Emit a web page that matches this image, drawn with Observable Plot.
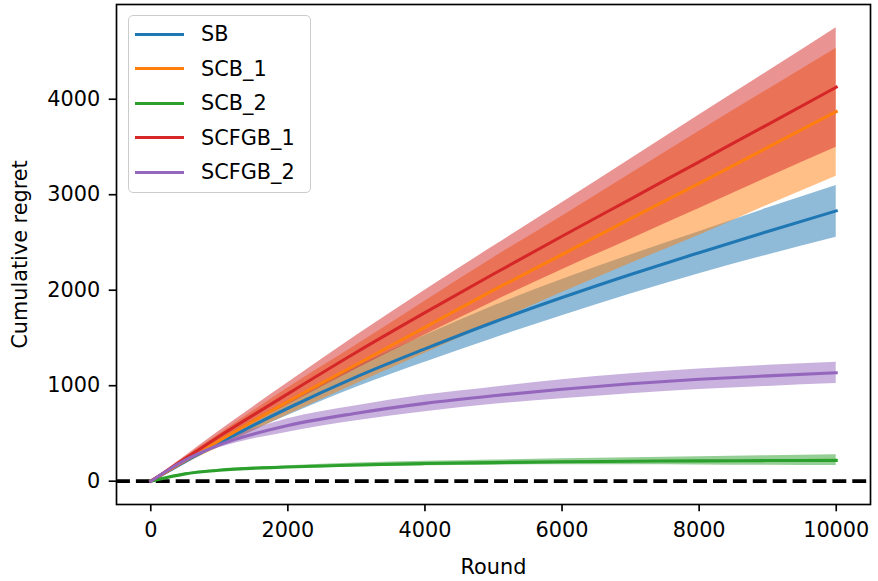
<!DOCTYPE html>
<html>
<head>
<meta charset="utf-8">
<script src="https://cdn.jsdelivr.net/npm/d3@7"></script>
<script src="https://cdn.jsdelivr.net/npm/@observablehq/plot@0.6"></script>
<style>
  html, body { margin: 0; padding: 0; background: white; }
  #wrap { position: relative; width: 878px; height: 581px; font-family: "DejaVu Sans", sans-serif; }
  #wrap svg { position: absolute; left: 0; top: 0; }
  #legend { position: absolute; left: 128px; top: 15px; width: 181px; height: 176px;
    border: 1.6px solid #cccccc; border-radius: 5px; background: rgba(255,255,255,0.8); }
  .item { position: absolute; left: 0; height: 30px; width: 180px; }
  .swatch { position: absolute; left: 6px; width: 49px; height: 3.1px; }
  .lbl { position: absolute; left: 72px; font-size: 20.8px; line-height: 20px; color: black; white-space: nowrap; }
</style>
</head>
<body>
<div id="wrap"><div id="legend"></div></div>
<script>
// x positions (rounds)
const rounds = [0, 250, 500, 1000, 2000, 3000, 4000, 5000, 6000, 7000, 8000, 9000, 10000];

// series names and colours
const names = ["SB", "SCB_1", "SCB_2", "SCFGB_1", "SCFGB_2"];
const colors = ["#1f77b4", "#ff7f0e", "#2ca02c", "#d62728", "#9467bd"];

// SB
const sbMean = [0, 103, 205, 400, 764, 1093, 1386, 1665, 1923, 2165, 2393, 2615, 2831];
const sbLo   = [0, 93, 185, 360, 689, 985, 1246, 1495, 1733, 1960, 2173, 2370, 2555];
const sbHi   = [0, 113, 225, 440, 839, 1201, 1526, 1835, 2113, 2370, 2613, 2860, 3096];
// SCB_1
const scb1Mean = [0, 108, 215, 425, 834, 1222, 1612, 2000, 2374, 2750, 3120, 3495, 3871];
const scb1Lo   = [0, 92, 180, 355, 695, 1020, 1340, 1660, 1975, 2280, 2575, 2890, 3194];
const scb1Hi   = [0, 124, 250, 495, 975, 1425, 1885, 2340, 2775, 3220, 3665, 4100, 4534];
// SCB_2
const scb2Mean = [0, 42, 77, 115, 148, 170, 185, 195, 203, 209, 213, 216, 218];
const scb2Lo   = [0, 38, 70, 105, 133, 150, 162, 168, 172, 172, 170, 167, 164];
const scb2Hi   = [0, 46, 84, 125, 163, 190, 208, 222, 234, 246, 256, 266, 276];
// SCFGB_1
const scfgb1Mean = [0, 118, 236, 470, 915, 1350, 1765, 2170, 2565, 2955, 3345, 3735, 4126];
const scfgb1Lo   = [0, 106, 211, 415, 800, 1175, 1530, 1880, 2215, 2535, 2855, 3180, 3497];
const scfgb1Hi   = [0, 130, 261, 525, 1030, 1525, 2000, 2460, 2915, 3375, 3835, 4290, 4748];
// SCFGB_2
const scfgb2Mean = [0, 115, 220, 380, 583, 712, 815, 895, 963, 1020, 1067, 1103, 1135];
const scfgb2Lo   = [0, 108, 205, 350, 513, 634, 728, 805, 863, 915, 959, 993, 1022];
const scfgb2Hi   = [0, 122, 235, 410, 653, 790, 902, 985, 1063, 1125, 1175, 1213, 1246];

// tick values
const xTicks = [0, 2000, 4000, 6000, 8000, 10000];
const yTicks = [0, 1000, 2000, 3000, 4000];

const seriesVals = [
  [sbMean, sbLo, sbHi],
  [scb1Mean, scb1Lo, scb1Hi],
  [scb2Mean, scb2Lo, scb2Hi],
  [scfgb1Mean, scfgb1Lo, scfgb1Hi],
  [scfgb2Mean, scfgb2Lo, scfgb2Hi]
];

const tables = seriesVals.map(([m, lo, hi], i) =>
  rounds.map((r, j) => ({name: names[i], round: r, mean: m[j], lo: lo[j], hi: hi[j]})));

const curve = "monotone-x";
const areas = tables.map((t, i) => Plot.areaY(t, {x: "round", y1: "lo", y2: "hi", fill: colors[i], fillOpacity: 0.5, curve}));
const lines = tables.map((t, i) => Plot.lineY(t, {x: "round", y: "mean", stroke: colors[i], strokeWidth: 3.1, curve, strokeLinecap: "square"}));

const chart = Plot.plot({
  width: 878,
  height: 581,
  marginLeft: 116,
  marginRight: 8,
  marginTop: 4,
  marginBottom: 77,
  x: {domain: [-500, 10500]},
  y: {domain: [-244, 4992]},
  style: {fontFamily: "DejaVu Sans", fontSize: "20.8px", color: "black", background: "transparent", overflow: "visible"},
  marks: [
    ...areas,
    Plot.ruleY([0], {stroke: "black", strokeWidth: 3.75, strokeDasharray: "13.9,6"}),
    ...lines,
    Plot.axisX(xTicks, {tickSize: 7.3, tickPadding: 10, strokeWidth: 1.67, tickFormat: d => String(d),
      label: "Round", labelArrow: "none", labelAnchor: "center", labelOffset: 69, fontSize: "20.8px"}),
    Plot.axisY(yTicks, {tickSize: 7.3, tickPadding: 9, strokeWidth: 1.67, tickFormat: d => String(d),
      label: "Cumulative regret", labelArrow: "none", labelAnchor: "center", labelOffset: 104, fontSize: "20.8px"}),
    Plot.frame({stroke: "black", strokeWidth: 1.67})
  ]
});
document.getElementById("wrap").insertBefore(chart, document.getElementById("legend"));

// legend
const legend = document.getElementById("legend");
names.forEach((n, i) => {
  const item = document.createElement("div");
  item.className = "item";
  item.style.top = (3 + i * 34.6) + "px";
  const sw = document.createElement("div");
  sw.className = "swatch";
  sw.style.background = colors[i];
  sw.style.top = "13.5px";
  const lb = document.createElement("div");
  lb.className = "lbl";
  lb.style.top = "5px";
  lb.textContent = n;
  item.appendChild(sw);
  item.appendChild(lb);
  legend.appendChild(item);
});
</script>
</body>
</html>
